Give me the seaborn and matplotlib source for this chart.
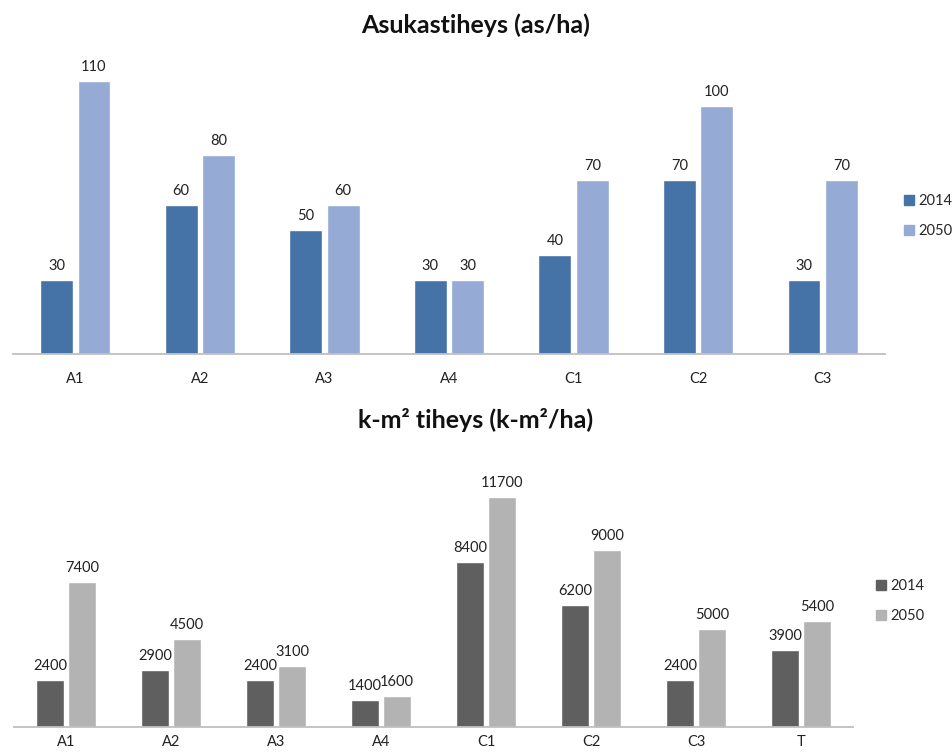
import matplotlib
matplotlib.use("Agg")
import matplotlib.pyplot as plt
import seaborn as sns
import pandas as pd
from matplotlib.patches import Patch

sns.set_theme(style="white")
plt.rcParams["font.family"] = ["Lato", "DejaVu Sans"]

# Population density (inhabitants / ha)
areas_pop = ["A1", "A2", "A3", "A4", "C1", "C2", "C3"]
pop_2014 = [30, 60, 50, 30, 40, 70, 30]
pop_2050 = [110, 80, 60, 30, 70, 100, 70]

# Floor-area density (k-m2 / ha)
areas_floor = ["A1", "A2", "A3", "A4", "C1", "C2", "C3", "T"]
floor_2014 = [2400, 2900, 2400, 1400, 8400, 6200, 2400, 3900]
floor_2050 = [7400, 4500, 3100, 1600, 11700, 9000, 5000, 5400]

years = ["2014", "2050"]

W, H = 952, 752
fig = plt.figure(figsize=(W / 100, H / 100), dpi=100)


def px_axes(left, right, top, bottom):
    return fig.add_axes([left / W, 1 - bottom / H, (right - left) / W, (bottom - top) / H])


def draw(ax, cats, v14, v50, colors, ymax, width, gap, title, title_y,
         leg_x, leg_y, tick_pad):
    df = pd.DataFrame({
        "area": cats * 2,
        "year": [years[0]] * len(cats) + [years[1]] * len(cats),
        "value": list(v14) + list(v50),
    })
    sns.barplot(data=df, x="area", y="value", hue="year", order=cats,
                hue_order=years, palette=colors, width=width, gap=gap,
                saturation=1, legend=False, ax=ax, errorbar=None)
    for cont in ax.containers:
        ax.bar_label(cont, labels=[f"{v:g}" for v in cont.datavalues],
                     padding=5, fontsize=10.5, color="#222222")
    ax.set_ylim(0, ymax)
    ax.set_xlim(-0.5, len(cats) - 0.5)
    ax.set_xlabel("")
    ax.set_ylabel("")
    ax.set_yticks([])
    ax.tick_params(axis="x", length=0, labelsize=10.5, pad=tick_pad, colors="#222222")
    for s in ["top", "right", "left"]:
        ax.spines[s].set_visible(False)
    ax.spines["bottom"].set_color("#BFBFBF")
    ax.spines["bottom"].set_linewidth(1.3)
    fig.text(0.5, 1 - title_y / H, title, ha="center", va="center",
             fontsize=18, fontweight="bold", color="#111111")
    handles = [Patch(color=c, label=y) for c, y in zip(colors, years)]
    fig.legend(handles=handles, loc="center left",
               bbox_to_anchor=(leg_x / W, 1 - leg_y / H), frameon=False,
               borderpad=0, borderaxespad=0,
               fontsize=10.5, handlelength=0.7, handleheight=0.7,
               handletextpad=0.3, labelspacing=1.1)


ax1 = px_axes(13, 885, 56, 354)
draw(ax1, areas_pop, pop_2014, pop_2050, ["#4572A7", "#95ABD5"], 120,
     0.6, 0.12, "Asukastiheys (as/ha)", 25, 904, 216, 13)

ax2 = px_axes(13.5, 853.5, 452, 727)
draw(ax2, areas_floor, floor_2014, floor_2050, ["#5F5F5F", "#B3B3B3"], 14000,
     0.61, 0.1, "k-m² tiheys (k-m²/ha)", 420, 876, 601, 6)

fig.savefig("out.png", dpi=100, facecolor="white")
